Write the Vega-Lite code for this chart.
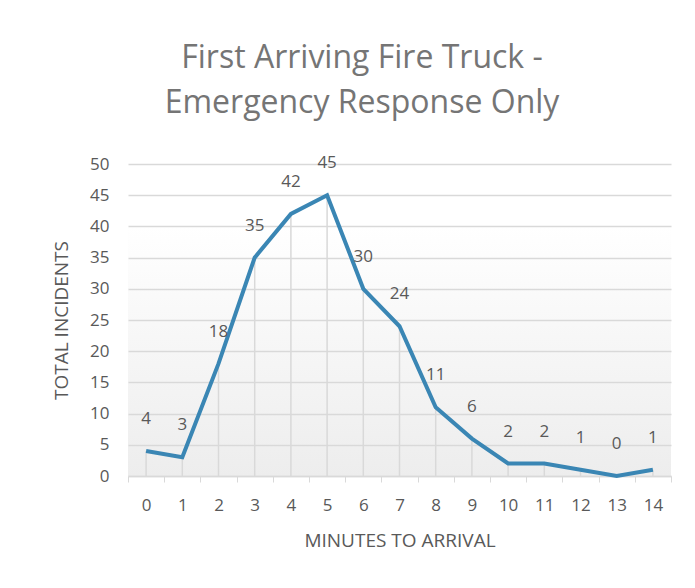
{
  "$schema": "https://vega.github.io/schema/vega-lite/v6.json",
  "width": 543,
  "height": 312,
  "autosize": {"type": "pad"},
  "padding": {"left": 52, "top": 42, "right": 15, "bottom": 30},
  "background": "white",
  "title": {
    "text": ["First Arriving Fire Truck -", "Emergency Response Only"],
    "fontSize": 32,
    "font": "Open Sans",
    "fontWeight": "normal",
    "color": "#757575",
    "lineHeight": 45,
    "anchor": "middle",
    "frame": "bounds",
    "offset": 34
  },
  "config": {
    "font": "Open Sans",
    "view": {
      "stroke": null,
      "fill": {
        "gradient": "linear",
        "x1": 0, "y1": 0, "x2": 0, "y2": 1,
        "stops": [
          {"offset": 0, "color": "#ffffff"},
          {"offset": 0.2, "color": "#ffffff"},
          {"offset": 1, "color": "#ededed"}
        ]
      }
    }
  },
  "data": {
    "values": [
      {"minute": 0, "incidents": 4},
      {"minute": 1, "incidents": 3},
      {"minute": 2, "incidents": 18},
      {"minute": 3, "incidents": 35},
      {"minute": 4, "incidents": 42},
      {"minute": 5, "incidents": 45},
      {"minute": 6, "incidents": 30},
      {"minute": 7, "incidents": 24},
      {"minute": 8, "incidents": 11},
      {"minute": 9, "incidents": 6},
      {"minute": 10, "incidents": 2},
      {"minute": 11, "incidents": 2},
      {"minute": 12, "incidents": 1},
      {"minute": 13, "incidents": 0},
      {"minute": 14, "incidents": 1}
    ]
  },
  "encoding": {
    "x": {
      "field": "minute",
      "type": "ordinal",
      "scale": {"type": "band", "paddingInner": 0, "paddingOuter": 0},
      "title": "MINUTES TO ARRIVAL",
      "axis": {
        "labelAngle": 0,
        "labelFontSize": 17,
        "labelColor": "#595959",
        "labelPadding": 15,
        "tickBand": "extent",
        "tickColor": "#d9d9d9",
        "tickSize": 6,
        "domainColor": "#d9d9d9",
        "domainWidth": 1.5,
        "grid": false,
        "titleFontSize": 19,
        "titleFontWeight": "normal",
        "titleColor": "#595959",
        "titlePadding": 18
      }
    },
    "y": {
      "field": "incidents",
      "type": "quantitative",
      "scale": {"domain": [0, 50], "nice": false},
      "title": "TOTAL INCIDENTS",
      "axis": {
        "values": [0, 5, 10, 15, 20, 25, 30, 35, 40, 45, 50],
        "grid": true,
        "gridColor": "#d9d9d9",
        "gridWidth": 1.5,
        "domain": false,
        "ticks": false,
        "labelFontSize": 17,
        "labelColor": "#595959",
        "labelPadding": 19,
        "titleFontSize": 19,
        "titleFontWeight": "normal",
        "titleColor": "#595959",
        "titlePadding": 18
      }
    }
  },
  "layer": [
    {
      "mark": {"type": "rule", "color": "#d9d9d9", "strokeWidth": 1.5},
      "encoding": {"y2": {"datum": 0}}
    },
    {
      "mark": {"type": "line", "color": "#3a86b4", "strokeWidth": 4, "strokeJoin": "miter"}
    },
    {
      "mark": {"type": "text", "dy": -32, "fontSize": 17, "color": "#595959"},
      "encoding": {"text": {"field": "incidents", "type": "quantitative"}}
    }
  ]
}
